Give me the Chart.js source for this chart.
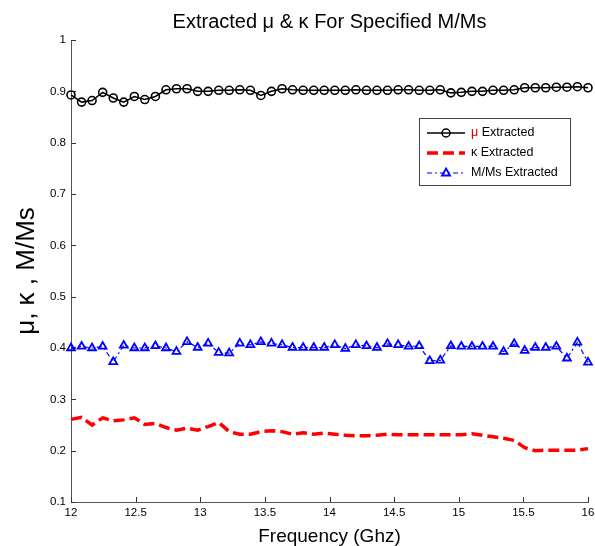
<!DOCTYPE html>
<html>
<head>
<meta charset="utf-8">
<script src="https://cdn.jsdelivr.net/npm/chart.js@4/dist/chart.umd.min.js"></script>
<style>
  html, body { margin: 0; padding: 0; background: #fff; }
</style>
</head>
<body>
<canvas id="chart" width="595" height="546"></canvas>
<script>
// frequency points (GHz)
const freqGhz = [
  12.000, 12.082, 12.163, 12.245, 12.327, 12.408, 12.490, 12.571, 12.653, 12.735,
  12.816, 12.898, 12.980, 13.061, 13.143, 13.224, 13.306, 13.388, 13.469, 13.551,
  13.633, 13.714, 13.796, 13.878, 13.959, 14.041, 14.122, 14.204, 14.286, 14.367,
  14.449, 14.531, 14.612, 14.694, 14.776, 14.857, 14.939, 15.020, 15.102, 15.184,
  15.265, 15.347, 15.429, 15.510, 15.592, 15.673, 15.755, 15.837, 15.918, 16.000
];

const muExtracted = [
  0.893, 0.879, 0.882, 0.898, 0.887, 0.879, 0.890, 0.884, 0.890, 0.903,
  0.905, 0.905, 0.900, 0.900, 0.902, 0.902, 0.903, 0.902, 0.892, 0.900,
  0.905, 0.903, 0.902, 0.902, 0.902, 0.902, 0.902, 0.903, 0.902, 0.902,
  0.902, 0.903, 0.903, 0.902, 0.902, 0.903, 0.897, 0.898, 0.900, 0.900,
  0.902, 0.902, 0.903, 0.907, 0.907, 0.907, 0.908, 0.908, 0.909, 0.907
];

const kappaExtracted = [
  0.261, 0.265, 0.250, 0.264, 0.258, 0.260, 0.264, 0.251, 0.253, 0.245,
  0.240, 0.244, 0.240, 0.247, 0.255, 0.237, 0.232, 0.232, 0.237, 0.239,
  0.237, 0.232, 0.235, 0.232, 0.234, 0.232, 0.230, 0.229, 0.229, 0.230,
  0.232, 0.231, 0.231, 0.231, 0.231, 0.231, 0.231, 0.231, 0.233, 0.230,
  0.227, 0.224, 0.220, 0.206, 0.200, 0.201, 0.201, 0.201, 0.201, 0.204
];

const mmsExtracted = [
  0.400, 0.403, 0.400, 0.403, 0.373, 0.405, 0.400, 0.400, 0.404, 0.400,
  0.393, 0.412, 0.401, 0.409, 0.391, 0.390, 0.409, 0.406, 0.412, 0.409,
  0.406, 0.401, 0.401, 0.401, 0.401, 0.406, 0.399, 0.406, 0.404, 0.401,
  0.408, 0.406, 0.403, 0.404, 0.375, 0.376, 0.404, 0.403, 0.403, 0.403,
  0.403, 0.393, 0.408, 0.395, 0.401, 0.401, 0.403, 0.380, 0.411, 0.372
];

const xTicks = [12, 12.5, 13, 13.5, 14, 14.5, 15, 15.5, 16];
const yTicks = [0.1, 0.2, 0.3, 0.4, 0.5, 0.6, 0.7, 0.8, 0.9, 1];

const FONT = 'Arial, "Liberation Sans", sans-serif';
Chart.defaults.font.family = FONT;
Chart.defaults.color = '#000';

const toPoints = (ys) => ys.map((y, i) => ({ x: freqGhz[i], y: y }));

// MATLAB-style ticks pointing into the plot
const inwardTicks = {
  id: 'inwardTicks',
  beforeDatasetsDraw(chart) {
    const { ctx, chartArea: a, scales: { x, y } } = chart;
    ctx.save();
    ctx.strokeStyle = '#333';
    ctx.lineWidth = 1;
    ctx.beginPath();
    x.ticks.forEach((t) => {
      const px = Math.round(x.getPixelForValue(t.value)) + 0.5;
      ctx.moveTo(px, a.bottom);
      ctx.lineTo(px, a.bottom - 5);
    });
    y.ticks.forEach((t) => {
      const py = Math.round(y.getPixelForValue(t.value)) + 0.5;
      ctx.moveTo(a.left, py);
      ctx.lineTo(a.left + 5, py);
    });
    ctx.stroke();
    ctx.restore();
  }
};

// legend box drawn inside the plot, upper right
const boxLegend = {
  id: 'boxLegend',
  afterDraw(chart) {
    const ctx = chart.ctx;
    const bx = 419, by = 118, bw = 151, bh = 67;
    ctx.save();
    ctx.fillStyle = '#fff';
    ctx.fillRect(bx, by, bw, bh);
    ctx.strokeStyle = '#444';
    ctx.lineWidth = 1;
    ctx.strokeRect(bx + 0.5, by + 0.5, bw, bh);

    const x0 = 427, x1 = 465, mx = 446, tx = 471;
    const rows = [133, 153, 173];
    ctx.font = '12.5px ' + FONT;
    ctx.textBaseline = 'middle';

    // mu
    ctx.strokeStyle = '#000';
    ctx.lineWidth = 1.5;
    ctx.setLineDash([]);
    ctx.beginPath(); ctx.moveTo(x0, rows[0]); ctx.lineTo(x1, rows[0]); ctx.stroke();
    ctx.beginPath(); ctx.arc(mx, rows[0], 4, 0, Math.PI * 2); ctx.stroke();
    ctx.fillStyle = '#d00000';
    ctx.fillText('\u03bc', tx, rows[0]);
    let w = ctx.measureText('\u03bc').width;
    ctx.fillStyle = '#000';
    ctx.fillText(' Extracted', tx + w, rows[0]);

    // kappa
    ctx.strokeStyle = '#ff0000';
    ctx.lineWidth = 3.5;
    ctx.setLineDash([11, 5]);
    ctx.beginPath(); ctx.moveTo(x0, rows[1]); ctx.lineTo(x1, rows[1]); ctx.stroke();
    ctx.setLineDash([]);
    ctx.fillStyle = '#000';
    ctx.fillText('\u03ba Extracted', tx, rows[1]);

    // M/Ms
    ctx.strokeStyle = '#0000ff';
    ctx.lineWidth = 1.2;
    ctx.setLineDash([5, 3, 2, 3]);
    ctx.beginPath(); ctx.moveTo(x0, rows[2]); ctx.lineTo(x1, rows[2]); ctx.stroke();
    ctx.setLineDash([]);
    ctx.lineWidth = 1.8;
    ctx.beginPath();
    ctx.moveTo(mx, rows[2] - 4.5);
    ctx.lineTo(mx + 4, rows[2] + 2.5);
    ctx.lineTo(mx - 4, rows[2] + 2.5);
    ctx.closePath();
    ctx.stroke();
    ctx.fillStyle = '#000';
    ctx.fillText('M/Ms Extracted', tx, rows[2]);
    ctx.restore();
  }
};

new Chart(document.getElementById('chart'), {
  type: 'line',
  data: {
    datasets: [
      {
        label: '\u03bc Extracted',
        data: toPoints(muExtracted),
        borderColor: '#000',
        borderWidth: 1.5,
        pointStyle: 'circle',
        pointRadius: 4,
        pointBorderWidth: 1.6,
        pointBorderColor: '#000',
        pointBackgroundColor: 'rgba(0,0,0,0)',
        clip: false,
        tension: 0
      },
      {
        label: '\u03ba Extracted',
        data: toPoints(kappaExtracted),
        borderColor: '#ff0000',
        borderWidth: 3.5,
        borderDash: [11, 5],
        pointRadius: 0,
        clip: false,
        tension: 0
      },
      {
        label: 'M/Ms Extracted',
        data: toPoints(mmsExtracted),
        borderColor: '#0000ff',
        borderWidth: 1.2,
        borderDash: [5, 3, 2, 3],
        pointStyle: 'triangle',
        pointRadius: 4.5,
        pointBorderWidth: 1.8,
        pointBorderColor: '#0000ff',
        pointBackgroundColor: 'rgba(0,0,0,0)',
        clip: false,
        tension: 0
      }
    ]
  },
  options: {
    responsive: false,
    animation: false,
    layout: { padding: { left: 0, right: 7, top: 0, bottom: 0 } },
    plugins: {
      legend: { display: false },
      tooltip: { enabled: false },
      title: {
        display: true,
        fullSize: false,
        text: 'Extracted \u03bc & \u03ba For Specified M/Ms',
        font: { size: 20, weight: 'normal', family: FONT, lineHeight: 1.2 },
        color: '#000',
        padding: { top: 10, bottom: 6 }
      }
    },
    scales: {
      x: {
        type: 'linear',
        min: 12,
        max: 16,
        afterBuildTicks: (scale) => { scale.ticks = xTicks.map((v) => ({ value: v })); },
        afterFit: (scale) => {
          scale.height = 44;
          scale.paddingLeft = 0;
          scale.paddingRight = 0;
        },
        ticks: {
          padding: 4,
          font: { size: 11.5 },
          color: '#000',
          maxRotation: 0,
          callback: (v) => String(v)
        },
        grid: { display: false, drawTicks: false },
        border: { display: true, color: '#555', width: 1 },
        title: {
          display: true,
          text: 'Frequency (Ghz)',
          font: { size: 19, lineHeight: 1 },
          color: '#000',
          padding: { top: 0, bottom: 0 }
        }
      },
      y: {
        type: 'linear',
        min: 0.1,
        max: 1,
        afterBuildTicks: (scale) => { scale.ticks = yTicks.map((v) => ({ value: v })); },
        afterFit: (scale) => {
          scale.width = 71;
          scale.paddingTop = 0;
          scale.paddingBottom = 0;
        },
        ticks: {
          padding: 5,
          font: { size: 11.5 },
          color: '#000',
          callback: (v) => String(+v.toFixed(1))
        },
        grid: { display: false, drawTicks: false },
        border: { display: true, color: '#555', width: 1 },
        title: {
          display: true,
          text: '\u03bc, \u03ba , M/Ms',
          font: { size: 26, lineHeight: 1.2 },
          color: '#000',
          padding: { top: 11, bottom: 0 }
        }
      }
    }
  },
  plugins: [inwardTicks, boxLegend]
});
</script>
</body>
</html>
